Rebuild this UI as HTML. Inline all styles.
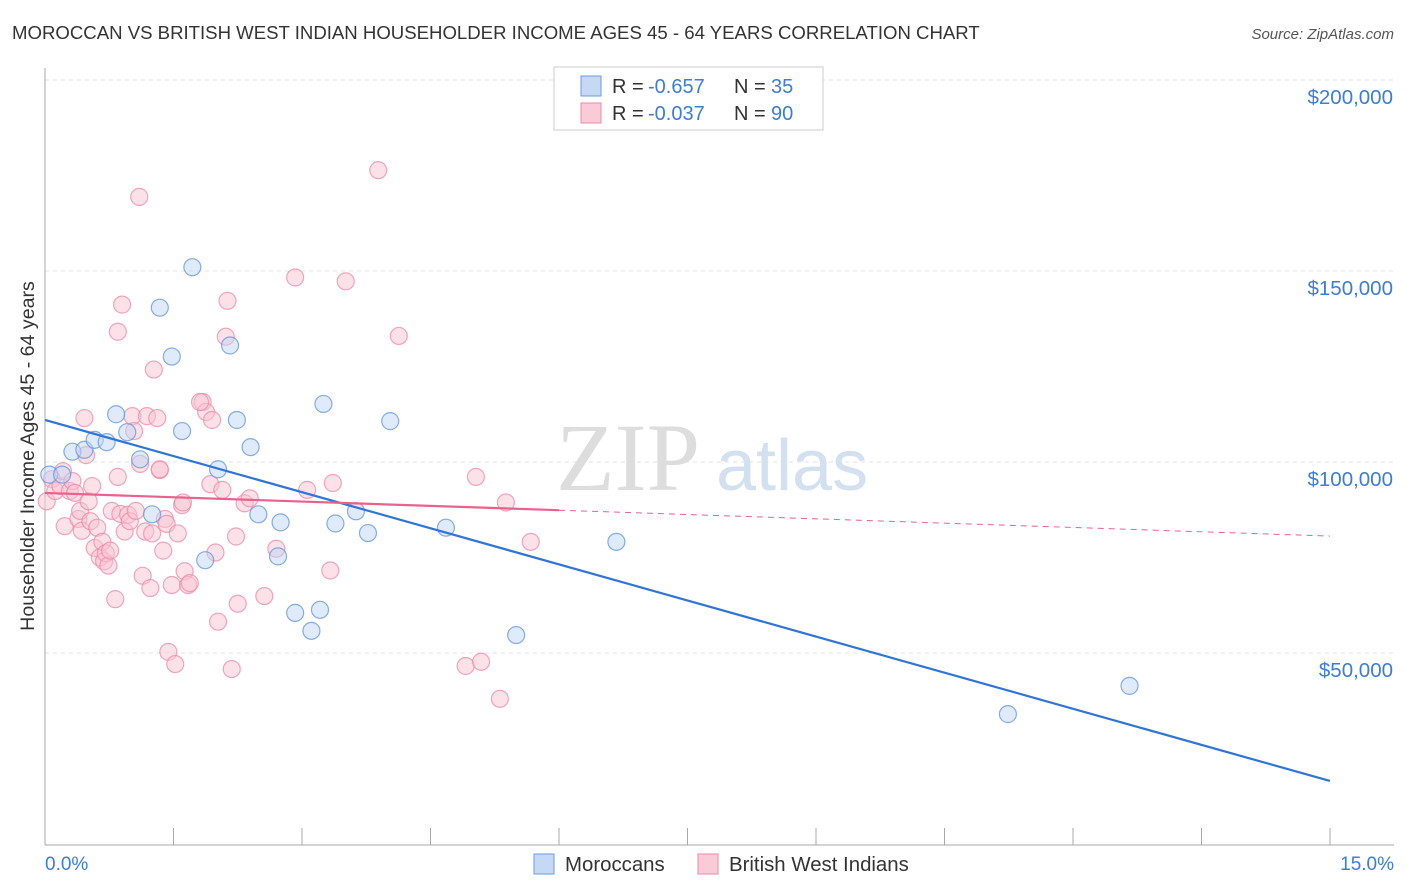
<!DOCTYPE html>
<html><head><meta charset="utf-8"><style>
body{margin:0;background:#fff;font-family:"Liberation Sans",sans-serif}
svg{display:block}
</style></head><body>
<svg id="c" width="1406" height="892">
<text x="12" y="39" font-size="18.6" fill="#333">MOROCCAN VS BRITISH WEST INDIAN HOUSEHOLDER INCOME AGES 45 - 64 YEARS CORRELATION CHART</text>
<text x="1394" y="39" font-size="15" fill="#555" text-anchor="end" font-style="italic">Source: ZipAtlas.com</text>
<g id="grid"></g>
<text x="700" y="490" font-size="96" fill="#ddd" text-anchor="end" font-family="Liberation Serif">ZIP</text>
<text x="716" y="490" font-size="72" fill="#d3e0f0">atlas</text>
<g id="marks"></g>
<text transform="translate(34,456) rotate(-90)" font-size="19.6" fill="#333" text-anchor="middle">Householder Income Ages 45 - 64 years</text>
<text x="45" y="870" font-size="19" fill="#3b7dd8">0.0%</text>
<text x="1394" y="870" font-size="19" fill="#3b7dd8" text-anchor="end">15.0%</text>
<g>
<rect x="554" y="67" width="269" height="63" fill="#fff" stroke="#ccc"/>
<rect x="581" y="76" width="20" height="20" fill="#c5d9f5" stroke="#6a9ae0"/>
<rect x="581" y="103" width="20" height="20" fill="#f9cbd8" stroke="#ec8aa8"/>
<text y="93" font-size="20" fill="#333"><tspan x="612">R =</tspan><tspan x="648" fill="#3b7dd8">-0.657</tspan><tspan x="734">N =</tspan><tspan x="771" fill="#3b7dd8">35</tspan></text>
<text y="120" font-size="20" fill="#333"><tspan x="612">R =</tspan><tspan x="648" fill="#3b7dd8">-0.037</tspan><tspan x="734">N =</tspan><tspan x="771" fill="#3b7dd8">90</tspan></text>
</g>
<g>
<rect x="534" y="854" width="20" height="20" fill="#c5d9f5" stroke="#6a9ae0"/>
<text x="565" y="871" font-size="20.4" fill="#333">Moroccans</text>
<rect x="698" y="854" width="20" height="20" fill="#f9cbd8" stroke="#ec8aa8"/>
<text x="729" y="871" font-size="20.4" fill="#333">British West Indians</text>
</g>
</svg>
<script>
const yTicks=[50000,100000,150000,200000];
const yTickLabels=["$50,000","$100,000","$150,000","$200,000"];
const xTicks=[0,1.5,3,4.5,6,7.5,9,10.5,12,13.5,15];
const moroccanX=[0.05,0.2,0.32,0.46,0.58,0.72,0.83,0.96,1.11,1.25,1.34,1.48,1.6,1.72,1.87,2.02,2.16,2.24,2.4,2.49,2.72,2.75,2.92,3.11,3.21,3.25,3.39,3.63,3.77,4.03,4.68,5.5,6.67,11.24,12.66];
const moroccanY=[96700,96700,102700,103200,105800,105200,112500,107800,100700,86300,140400,127600,108100,151000,74300,98100,130500,111000,103900,86300,75300,84200,60500,55800,61300,115200,83900,87100,81400,110700,82800,54700,79100,34000,41400];
const bwiX=[0.02,0.08,0.12,0.18,0.21,0.23,0.29,0.32,0.35,0.39,0.41,0.43,0.46,0.48,0.51,0.53,0.55,0.58,0.61,0.64,0.67,0.69,0.71,0.74,0.76,0.78,0.82,0.85,0.88,0.9,0.93,0.97,0.99,1.02,1.04,1.06,1.1,1.11,1.14,1.17,1.19,1.23,1.25,1.27,1.31,1.34,1.38,1.4,1.42,1.44,1.48,1.52,1.55,1.6,1.63,1.67,1.69,1.84,1.88,1.93,1.95,1.99,2.02,2.07,2.11,2.13,2.18,2.23,2.25,2.33,2.39,2.56,2.7,2.92,3.06,3.33,3.36,3.51,3.89,4.13,4.91,5.03,5.09,5.31,5.38,5.67,1.81,1.61,1.34,0.85];
const bwiY=[89700,95500,92400,93700,97600,83200,92400,95000,91900,85100,87200,82000,111500,101800,89700,84500,93700,77500,82800,75000,79100,74000,76100,72900,76800,87200,64100,134100,86400,141200,81800,86200,84500,112000,108100,87200,169400,99500,70200,81800,112000,67000,81300,124200,111500,97900,76800,85100,83800,50300,67800,47100,81300,88700,71400,67800,68300,115700,113100,94200,111000,76300,58200,92700,132800,142200,45800,80500,62900,89200,90500,64900,77300,148300,92700,71600,94500,147300,176400,133000,46600,96100,47700,38000,89400,79100,115700,89400,98100,96100];
const trendIntercept=[111000,91900];
const trendSlope=[-6300,-753];
const X=v=>45+v/15*1285, Y=v=>844-v/50000*191;
const NS="http://www.w3.org/2000/svg";
function mk(t,a,p){const e=document.createElementNS(NS,t);for(const k in a)e.setAttribute(k,a[k]);p.appendChild(e);return e;}
const grid=document.getElementById('grid'),marks=document.getElementById('marks');
yTicks.forEach((v,i)=>{const l=mk('line',{x1:45,x2:1394,y1:Y(v),y2:Y(v),stroke:'#e3e3e3','stroke-dasharray':'4,4'},grid);


const t=mk('text',{x:1393,y:Y(v)+24,'font-size':20.5,fill:'#3b7dd8','text-anchor':'end'},grid);t.textContent=yTickLabels[i];

});
mk('line',{x1:45,x2:45,y1:68,y2:845,stroke:'#aaa'},grid);
mk('line',{x1:45,x2:1394,y1:845,y2:845,stroke:'#aaa'},grid);
xTicks.forEach(v=>{const l=mk('line',{x1:X(v),x2:X(v),y1:828,y2:845,stroke:'#aaa'},grid);

});
function pts(xs,ys,fill,stroke,name){xs.forEach((x,i)=>{const c=mk('circle',{cx:X(x),cy:Y(ys[i]),r:8.5,fill:fill,'fill-opacity':0.5,stroke:stroke,'stroke-opacity':0.75,'stroke-width':1.2},marks);

});}
pts(bwiX,bwiY,'#f9c3d3','#ec8aa8','bwi-point');
pts(moroccanX,moroccanY,'#c0d6f5','#5f93dd','moroccan-point');
const b=mk('line',{x1:X(0),y1:Y(trendIntercept[0]),x2:X(15),y2:Y(trendIntercept[0]+trendSlope[0]*15),stroke:'#2f74d6','stroke-width':2.2},marks);


const p=mk('line',{x1:X(0),y1:Y(trendIntercept[1]),x2:X(6),y2:Y(trendIntercept[1]+trendSlope[1]*6),stroke:'#e8628d','stroke-width':2.2},marks);


const pd=mk('line',{x1:X(6),y1:Y(trendIntercept[1]+trendSlope[1]*6),x2:X(15),y2:Y(trendIntercept[1]+trendSlope[1]*15),stroke:'#e8628d','stroke-width':1,'stroke-dasharray':'6,5'},marks);


</script>
</body></html>
